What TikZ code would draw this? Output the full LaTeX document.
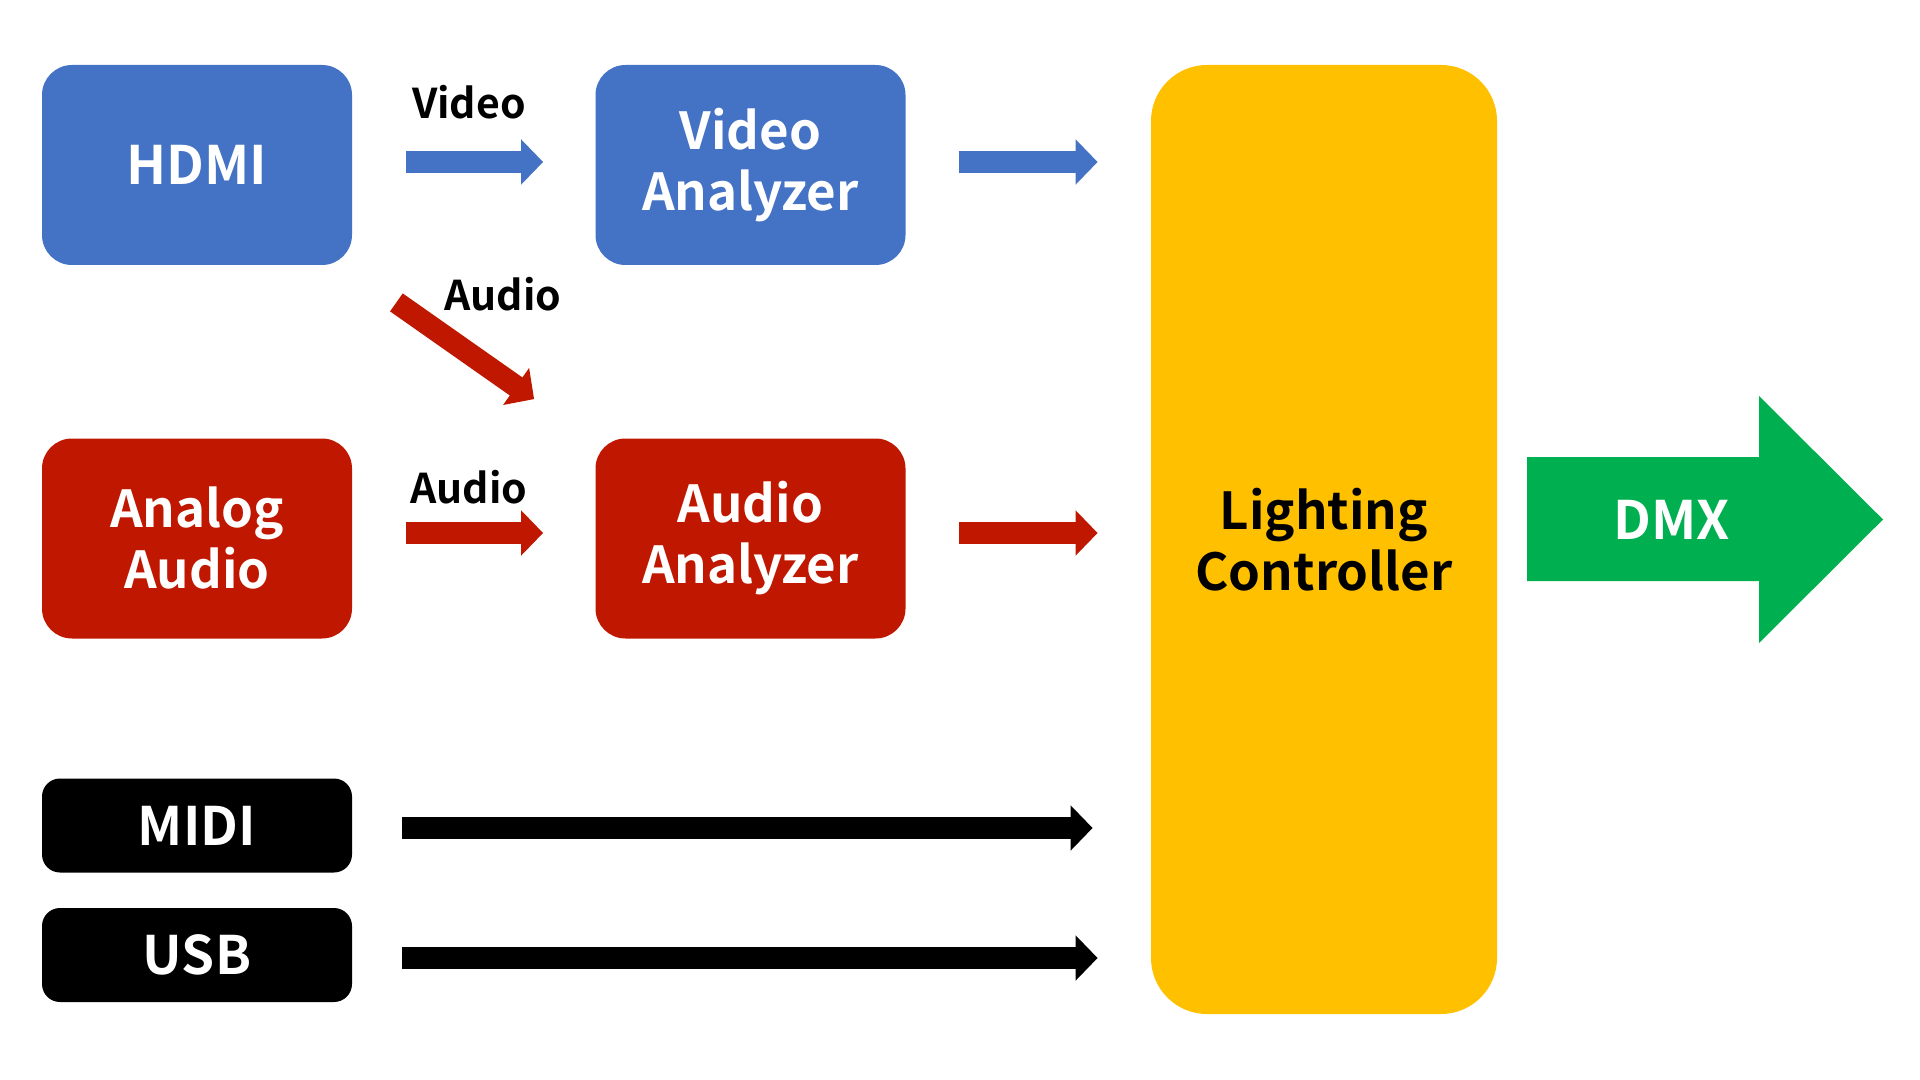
\documentclass[tikz,border=0pt]{standalone}
\usepackage{fontspec}
\setmainfont{Noto Sans CJK JP}[BoldFont={Noto Sans CJK JP Bold}]
\usetikzlibrary{arrows.meta,calc}
\definecolor{cblue}{HTML}{4472C4}
\definecolor{cred}{HTML}{C01800}
\definecolor{cyel}{HTML}{FFC000}
\definecolor{cgreen}{HTML}{00B050}
\tikzset{
  box/.style={rounded corners=15pt, draw=none, align=center, text=white,
    font=\bfseries\fontsize{25.5}{30.5}\selectfont, inner sep=0pt,
    minimum width=155pt, minimum height=100pt},
  smallbox/.style={box, rounded corners=9pt, fill=black, minimum height=47pt,
    font=\bfseries\fontsize{26.5}{30.5}\selectfont},
  blk/.style={line width=11pt, -{Triangle[width=22pt,length=11pt]}},
  lbl/.style={font=\bfseries\fontsize{20.5}{24}\selectfont, inner sep=0pt, anchor=base}
}
\begin{document}
\begin{tikzpicture}[x=0.5pt,y=-0.5pt]
\useasboundingbox (0,0) rectangle (1920,1080);
\fill[white] (0,0) rectangle (1920,1080);
% boxes
\node[box, fill=cblue, font=\bfseries\fontsize{26.5}{30.5}\selectfont] (hdmi) at (197,165) {HDMI};
\node[box, fill=cblue] (va) at (750.5,165) {Video\\Analyzer};
\node[box, fill=cred] (aa) at (197,538.5) {Analog\\Audio};
\node[box, fill=cred] (aua) at (750.5,538.5) {Audio\\Analyzer};
\node[smallbox] (midi) at (197,825.5) {MIDI};
\node[smallbox] (usb) at (197,955) {USB};
\node[box, fill=cyel, text=black, rounded corners=28pt, minimum width=173pt, minimum height=474.5pt,
  font=\bfseries\fontsize{25.5}{30.5}\selectfont] (lc) at (1324,539.5) {Lighting\\Controller};
% DMX arrow
\fill[cgreen] (1527,457) -- (1759,457) -- (1759,396) -- (1883,519.5) -- (1759,643) -- (1759,581) -- (1527,581) -- cycle;
\node[font=\bfseries\fontsize{26.5}{30}\selectfont, text=white, inner sep=0pt] (dmx) at (1672,519.5) {DMX};
% arrows
\draw[blk, cblue] ($(hdmi.east)+(54,-3)$) -- ($(va.west)+(-52,-3)$);
\draw[blk, cblue] ($(va.east)+(53,-3)$) -- ($(va.east -| lc.west)+(-53,-3)$);
\draw[blk, cred] ($(hdmi.south east)+(44,37)$) -- ($(aua.north west)+(-61,-39)$);
\draw[blk, cred] ($(aa.east)+(54,-5.5)$) -- ($(aua.west)+(-52,-5.5)$);
\draw[blk, cred] ($(aua.east)+(53,-5.5)$) -- ($(aua.east -| lc.west)+(-53,-5.5)$);
\draw[blk, black] ($(midi.east)+(50,2.5)$) -- ($(midi.east -| lc.west)+(-58,2.5)$);
\draw[blk, black] ($(usb.east)+(50,3)$) -- ($(usb.east -| lc.west)+(-53,3)$);
% labels
\node[lbl] (lvideo) at (469,119) {Video};
\node[lbl] (laudio1) at (503,311) {Audio};
\node[lbl] (laudio2) at (469,503) {Audio};
\end{tikzpicture}
\end{document}
